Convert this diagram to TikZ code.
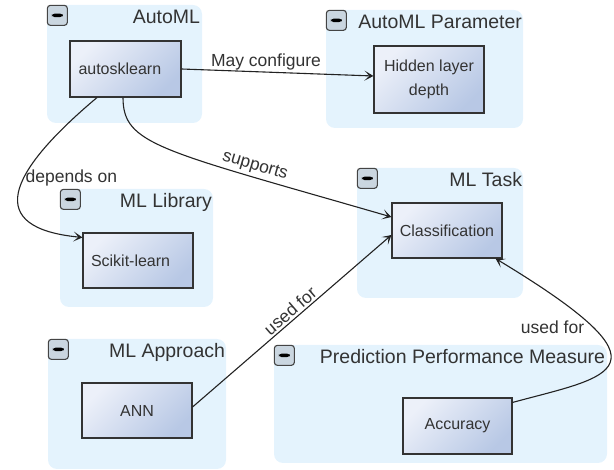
\documentclass[tikz,border=0pt]{standalone}
\usepackage{fontspec}
\setmainfont{Liberation Sans}
\usetikzlibrary{arrows.meta}
\definecolor{groupblue}{RGB}{228,243,253}
\definecolor{boxlight}{RGB}{236,240,249}
\definecolor{boxdark}{RGB}{184,200,229}
\definecolor{boxrim}{RGB}{51,51,51}
\definecolor{togglefill}{RGB}{202,214,224}
\definecolor{togglerim}{RGB}{68,68,68}
\definecolor{textgray}{RGB}{51,51,51}
\definecolor{linegray}{RGB}{34,34,34}

\begin{document}
\begin{tikzpicture}[x=1pt,y=-1pt,
    group/.style={fill=groupblue, rounded corners=9pt, inner sep=0pt},
    toggle/.style={draw=togglerim, fill=togglefill, line width=1.1pt,
        rounded corners=3pt, minimum size=20pt, inner sep=0pt, anchor=north west,
        path picture={\fill[black]
            ([xshift=-5.5pt,yshift=-1.8pt]path picture bounding box.center) rectangle
            ([xshift=5.5pt,yshift=1.8pt]path picture bounding box.center);}},
    grouptitle/.style={font=\fontsize{19.5}{22}\selectfont, text=textgray,
        anchor=base east, inner sep=0pt},
    concept/.style={draw=boxrim, line width=1.1pt, shading=axis,
        top color=boxlight, bottom color=boxdark, shading angle=45,
        minimum width=110pt, minimum height=55pt, inner sep=0pt,
        font=\fontsize{16}{24}\selectfont, text=textgray, align=center},
    leftconcept/.style={concept, text width=94pt, align=left},
    rel/.style={-{Stealth[length=9pt,width=10pt,inset=5pt]}, line width=1.1pt,
        draw=linegray},
    rellabel/.style={font=\fontsize{17.5}{20}\selectfont, text=textgray}
    ]
    \useasboundingbox (0,0) rectangle (614,470);

    % groups
    \node[group, minimum width=155pt, minimum height=118pt] (automl) at (124.5,64) {};
    \node[group, minimum width=197pt, minimum height=118pt] (amlparam) at (424.5,69) {};
    \node[group, minimum width=153pt, minimum height=118pt] (mllib) at (136.5,248) {};
    \node[group, minimum width=166pt, minimum height=130pt] (mltask) at (440,233) {};
    \node[group, minimum width=178pt, minimum height=130pt] (mlappr) at (137,404) {};
    \node[group, minimum width=333pt, minimum height=118pt] (ppm) at (440.5,404) {};

    \node[toggle] (automltoggle) at (automl.north west) {};
    \node[toggle] (amlparamtoggle) at (amlparam.north west) {};
    \node[toggle] (mllibtoggle) at (mllib.north west) {};
    \node[toggle] (mltasktoggle) at (mltask.north west) {};
    \node[toggle] (mlapprtoggle) at (mlappr.north west) {};
    \node[toggle] (ppmtoggle) at (ppm.north west) {};

    \node[grouptitle] (automltitle) at ([xshift=-2pt,yshift=-19pt]automl.north east) {AutoML};
    \node[grouptitle] (amlparamtitle) at ([xshift=-1pt,yshift=-19pt]amlparam.north east) {AutoML Parameter};
    \node[grouptitle] (mllibtitle) at ([xshift=-1pt,yshift=-19pt]mllib.north east) {ML Library};
    \node[grouptitle] (mltasktitle) at ([xshift=-1pt,yshift=-19pt]mltask.north east) {ML Task};
    \node[grouptitle] (mlapprtitle) at ([xshift=-1pt,yshift=-19pt]mlappr.north east) {ML Approach};
    \node[grouptitle] (ppmtitle) at ([xshift=-2pt,yshift=-19pt]ppm.north east) {Prediction Performance Measure};

    % concepts
    \node[leftconcept, minimum width=111pt, minimum height=56pt] (autosk) at (125.5,69) {autosklearn};
    \node[concept, minimum height=67pt] (hidden) at (429,79.5) {Hidden layer\\depth};
    \node[leftconcept] (scikit) at (138,260.5) {Scikit-learn};
    \node[concept] (classif) at (447,230.5) {Classification};
    \node[concept] (ann) at (137,410.5) {ANN};
    \node[concept, minimum width=109pt, minimum height=56pt] (accuracy) at (457.5,426) {Accuracy};

    % relations
    \draw[rel] (autosk.east) -- node[rellabel, pos=0.44, above, inner sep=1pt] (configlabel)
        {May configure} ([yshift=3.5pt]hidden.west);
    \draw[rel] ([xshift=-28.5pt]autosk.south) .. controls (5,175) and (-15,228) ..
        ([yshift=-5pt]scikit.north west)
        node[rellabel, pos=0.4, anchor=west, inner sep=1pt] (dependslabel) {depends on};
    \draw[rel] ([xshift=-2.5pt]autosk.south) .. controls (123,145) and (160,150) ..
        ([yshift=13.5pt]classif.west)
        node[rellabel, pos=0.75, sloped, above, inner sep=3pt] (supportslabel) {supports};
    \draw[rel] ([yshift=3.5pt]ann.east) -- node[rellabel, pos=0.52, sloped, above, inner sep=2pt]
        (annlabel) {used for} ([yshift=-4.5pt]classif.west);
    \draw[rel] ([yshift=-5pt]accuracy.north east) .. controls (610,376) and (680,370) ..
        ([xshift=-7pt]classif.south east)
        node[rellabel, pos=0.75, anchor=east, inner sep=5pt, yshift=-3pt] (accuracylabel) {used for};
\end{tikzpicture}
\end{document}
